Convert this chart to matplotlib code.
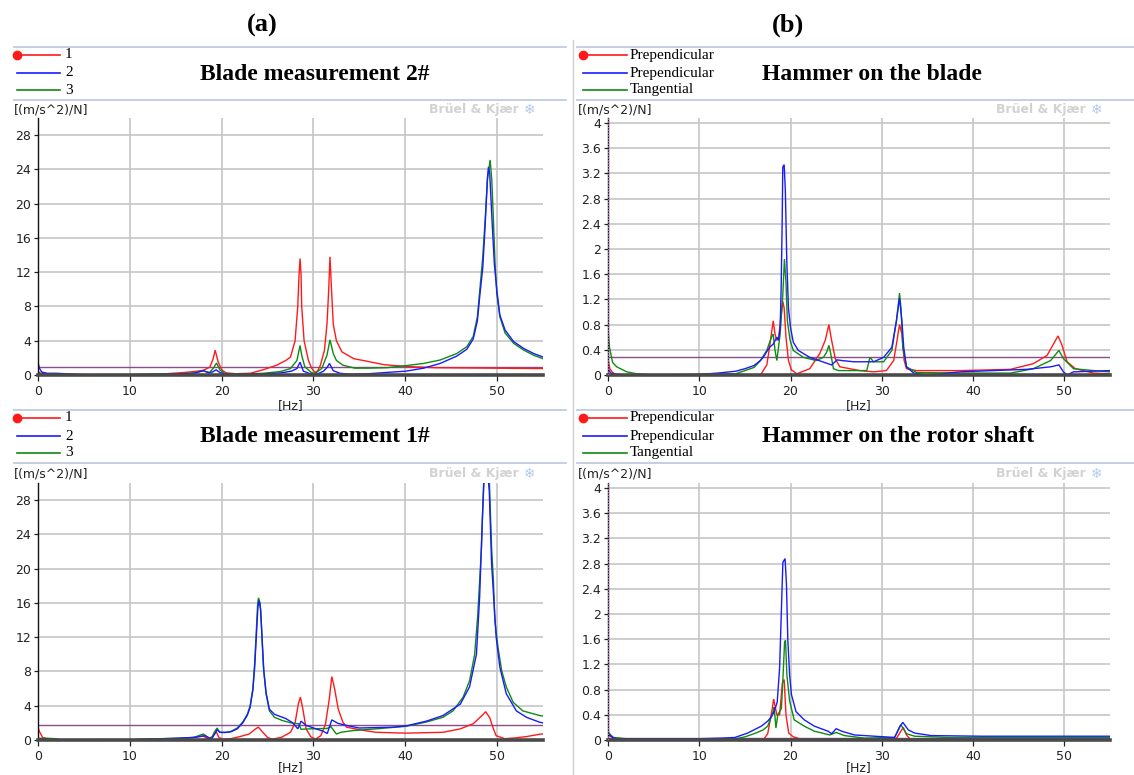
import matplotlib
matplotlib.use("Agg")
import matplotlib.pyplot as plt
from matplotlib.lines import Line2D
from matplotlib.ticker import FuncFormatter

# ---------------------------------------------------------------- data
freq_ticks = [0, 10, 20, 30, 40, 50]
blade_yticks = [0, 4, 8, 12, 16, 20, 24, 28]
hammer_yticks = [0, 0.4, 0.8, 1.2, 1.6, 2, 2.4, 2.8, 3.2, 3.6, 4]

blade_labels = ["1", "2", "3"]
hammer_labels = ["Prependicular", "Prependicular", "Tangential"]
panel_titles = ["Blade measurement 2#", "Hammer on the blade",
                "Blade measurement 1#", "Hammer on the rotor shaft"]
column_tags = ["(a)", "(b)"]
unit_label = "[(m/s^2)/N]"
freq_label = "[Hz]"
brand = "Brüel & Kjær"

# Blade measurement 2#
blade2_red_hz = [0, 0.3, 1, 2, 3, 5, 10, 14, 16, 17, 18, 18.7, 19.05, 19.3, 19.6, 20.0,
                 20.5, 21.5, 23.1, 24.5, 26.0, 27.0, 27.5, 28.0, 28.29, 28.43, 28.54,
                 28.65, 28.72, 28.98, 29.45, 29.8, 30.17, 30.47, 30.76, 31.2, 31.47,
                 31.65, 31.8, 31.98, 32.16, 32.5, 33.1, 34.4, 35.4, 37.7, 40.1, 43.3,
                 49.0, 55.0]
blade2_red = [0.4, 0.2, 0.15, 0.12, 0.08, 0.03, 0.05, 0.15, 0.3, 0.4, 0.55, 0.9, 1.8,
              2.9, 1.6, 0.6, 0.25, 0.15, 0.2, 0.6, 1.15, 1.7, 2.1, 4.0, 8.0, 11.7, 13.6,
              11.7, 8.0, 4.0, 1.7, 0.8, 0.3, 0.5, 1.15, 2.9, 5.9, 9.7, 13.8, 9.7, 5.9,
              4.0, 2.7, 1.9, 1.7, 1.2, 1.0, 0.85, 0.8, 0.75]
blade2_blue_hz = [0, 0.15, 0.4, 1, 2, 3, 4, 5.5, 10, 12, 14, 15.6, 17, 18.0, 18.6, 19.0,
                  19.4, 19.8, 20.3, 21.0, 23.0, 25.0, 26.5, 27.6, 28.2, 28.54, 28.9,
                  29.5, 30.0, 30.6, 31.1, 31.5, 31.74, 32.16, 32.9, 34.0, 36.0, 38.0,
                  40.1, 42.0, 43.8, 45.6, 46.7, 47.4, 47.85, 48.15, 48.44, 48.7, 48.95,
                  49.06, 49.2, 49.45, 49.7, 49.97, 50.3, 50.87, 51.8, 52.9, 54.0, 55.0]
blade2_blue = [1.5, 0.8, 0.35, 0.2, 0.2, 0.15, 0.08, 0.03, 0.02, 0.05, 0.08, 0.15, 0.2,
               0.5, 0.25, 0.35, 0.6, 0.3, 0.12, 0.08, 0.08, 0.15, 0.25, 0.45, 0.75, 1.5,
               0.45, 0.2, 0.1, 0.2, 0.45, 0.9, 1.35, 0.5, 0.2, 0.08, 0.15, 0.3, 0.45,
               0.8, 1.35, 2.2, 3.0, 4.2, 6.3, 9.6, 12.5, 17.5, 23.0, 24.3, 23.5, 18.0,
               13.0, 9.9, 7.0, 5.25, 3.9, 3.1, 2.5, 2.1]
blade2_green_hz = [0, 0.3, 1, 3, 10, 14, 16, 17, 18.0, 18.3, 18.7, 19.1, 19.45, 19.8,
                   20.3, 21.0, 22.0, 24.5, 26.4, 27.5, 28.2, 28.54, 28.72, 29.06, 29.8,
                   30.17, 30.9, 31.47, 31.8, 32.16, 32.5, 33.2, 34.5, 36.0, 38.0, 40.1,
                   42.0, 43.8, 45.6, 46.7, 47.4, 47.85, 48.15, 48.44, 48.7, 48.95, 49.24,
                   49.42, 49.6, 49.78, 49.97, 50.3, 50.87, 51.8, 52.9, 54.0, 55.0]
blade2_green = [0.3, 0.1, 0.05, 0.03, 0.03, 0.08, 0.15, 0.25, 0.5, 0.4, 0.3, 0.8, 1.4,
                0.6, 0.2, 0.1, 0.1, 0.2, 0.4, 0.75, 1.7, 3.45, 2.3, 0.95, 0.27, 0.2,
                0.75, 2.3, 4.1, 2.5, 1.7, 1.15, 0.8, 0.8, 0.85, 1.1, 1.35, 1.75, 2.5,
                3.3, 4.5, 6.8, 10.3, 13.8, 18.1, 22.8, 25.1, 22.8, 18.1, 13.0, 9.5, 6.8,
                4.9, 3.7, 2.9, 2.3, 1.9]
blade2_ref = 0.9

# Hammer on the blade
hblade_red_hz = [0, 0.2, 0.5, 1.0, 16.7, 17.4, 17.7, 18.1, 18.3, 18.5, 18.7, 18.9,
                 19.15, 19.3, 19.5, 19.77, 20.1, 20.7, 22.1, 23.2, 23.8, 24.2, 24.5,
                 24.9, 25.4, 27.6, 29.1, 30.5, 31.3, 31.6, 31.94, 32.2, 32.45, 32.7,
                 33.8, 38.6, 44.1, 46.6, 48.1, 48.8, 49.3, 49.7, 50.3, 51.2, 53.2, 55.0]
hblade_red = [0.25, 0.1, 0.04, 0.0, 0.0, 0.16, 0.44, 0.86, 0.65, 0.55, 0.6, 0.86, 1.17,
              1.06, 0.6, 0.23, 0.08, 0.02, 0.1, 0.34, 0.55, 0.8, 0.55, 0.26, 0.13, 0.07,
              0.05, 0.07, 0.23, 0.49, 0.8, 0.65, 0.23, 0.1, 0.07, 0.07, 0.09, 0.18,
              0.31, 0.49, 0.62, 0.49, 0.21, 0.1, 0.03, 0.02]
hblade_blue_hz = [0, 0.3, 1.0, 2.0, 9.0, 12.0, 14.0, 15.0, 16.0, 16.7, 17.0, 17.7, 18.1,
                  18.5, 18.68, 18.86, 18.97, 19.08, 19.15, 19.3, 19.43, 19.59, 19.77,
                  20.0, 20.3, 20.85, 22.1, 23.9, 24.5, 25.1, 25.6, 26.9, 29.1, 30.2,
                  31.1, 31.6, 31.94, 32.2, 32.4, 32.7, 33.5, 34.9, 38.6, 42.2, 45.9,
                  48.5, 49.4, 49.9, 50.3, 51.0, 55.0]
hblade_blue = [0.1, 0.03, 0.01, 0.0, 0.0, 0.03, 0.06, 0.1, 0.15, 0.23, 0.28, 0.44, 0.49,
               0.6, 0.55, 0.75, 1.38, 2.4, 3.3, 3.34, 2.93, 1.8, 1.06, 0.75, 0.52, 0.39,
               0.28, 0.19, 0.16, 0.24, 0.23, 0.21, 0.21, 0.28, 0.44, 0.86, 1.22, 0.86,
               0.44, 0.13, 0.03, 0.0, 0.05, 0.07, 0.09, 0.13, 0.16, 0.05, 0.0, 0.05, 0.07]
hblade_green_hz = [0, 0.15, 0.5, 0.95, 2.05, 3.1, 5, 14, 15, 16, 16.7, 17.4, 17.9, 18.1,
                   18.3, 18.5, 18.86, 19.15, 19.33, 19.5, 19.65, 19.95, 20.3, 21.4, 22.8,
                   23.6, 23.95, 24.2, 24.4, 24.7, 25.25, 28.35, 28.7, 29.1, 30.2, 31.1,
                   31.6, 31.94, 32.1, 32.3, 32.7, 33.8, 38.6, 44.1, 46.6, 48.5, 49.4,
                   49.9, 51.0, 53.2, 55.0]
hblade_green = [0.75, 0.45, 0.2, 0.13, 0.05, 0.02, 0.0, 0.02, 0.07, 0.12, 0.23, 0.39,
                0.6, 0.65, 0.39, 0.23, 0.65, 1.27, 1.84, 1.48, 0.86, 0.55, 0.39, 0.28,
                0.23, 0.28, 0.36, 0.47, 0.34, 0.1, 0.07, 0.07, 0.28, 0.21, 0.21, 0.39,
                0.86, 1.3, 1.06, 0.44, 0.13, 0.04, 0.03, 0.03, 0.1, 0.23, 0.39, 0.26, 0.1,
                0.07, 0.05]
hblade_ref = 0.29

# Blade measurement 1#
blade1_red_hz = [0, 0.15, 0.5, 1.0, 1.8, 2.5, 10.7, 13, 15, 17, 18.0, 18.5, 19.0, 19.4,
                 19.7, 20.2, 21.0, 22.0, 23.0, 23.7, 24.0, 24.4, 25.0, 25.5, 26.5, 27.5,
                 28.0, 28.35, 28.58, 28.85, 29.2, 29.7, 30.2, 30.8, 31.3, 31.7, 32.0,
                 32.3, 32.7, 33.2, 33.6, 35.0, 36.8, 40.1, 44.1, 46.0, 47.4, 48.2, 48.76,
                 49.2, 49.6, 49.9, 50.84, 52.0, 53.2, 54.8, 55.0]
blade1_red = [1.5, 1.0, 0.3, 0.15, 0.1, 0.0, 0.02, 0.05, 0.1, 0.3, 0.45, 0.15, 0.4, 1.0,
              0.3, 0.05, 0.15, 0.4, 0.7, 1.3, 1.5, 1.0, 0.3, 0.1, 0.3, 0.9, 2.0, 4.2,
              5.0, 3.6, 1.3, 0.4, 0.1, 0.5, 1.8, 4.6, 7.4, 6.0, 3.6, 2.1, 1.5, 1.2, 0.9,
              0.8, 0.9, 1.3, 1.9, 2.7, 3.3, 2.6, 1.3, 0.5, 0.15, 0.25, 0.4, 0.7, 0.7]
blade1_blue_hz = [0, 0.5, 1.0, 2.0, 11.0, 15.0, 17.0, 17.8, 18.2, 18.9, 19.3, 19.5, 19.8,
                  20.5, 21.0, 21.7, 22.3, 22.8, 23.1, 23.4, 23.6, 23.8, 23.95, 24.08,
                  24.25, 24.42, 24.6, 24.84, 25.2, 25.75, 27.0, 27.75, 28.3, 28.65, 29.2,
                  30.3, 31.1, 31.5, 32.0, 32.65, 33.6, 35.0, 38.7, 40.1, 42.3, 44.1,
                  46.0, 47.0, 47.75, 48.1, 48.4, 48.6, 48.85, 49.15, 49.4, 49.9, 50.3,
                  51.0, 52.1, 53.2, 54.65, 55.0]
blade1_blue = [0.15, 0.1, 0.05, 0.03, 0.05, 0.2, 0.3, 0.45, 0.5, 0.1, 0.8, 1.2, 0.9, 0.9,
               0.95, 1.3, 2.0, 2.9, 3.8, 5.8, 8.5, 12.5, 15.5, 16.3, 15.2, 11.5, 8.0, 5.5,
               3.6, 3.0, 2.5, 2.0, 1.3, 2.2, 1.7, 1.3, 1.0, 0.75, 2.35, 1.95, 1.7, 1.4,
               1.5, 1.65, 2.2, 2.85, 4.2, 6.2, 10.0, 16.7, 26.0, 31.0, 33.0, 29.0, 20.6,
               12.0, 8.5, 5.4, 3.4, 2.65, 2.07, 2.0]
blade1_green_hz = [0, 1.0, 2.0, 2.5, 10.5, 11.0, 13.0, 15.0, 16.0, 17.0, 17.6, 18.0, 18.5,
                   18.9, 19.2, 19.5, 19.8, 20.3, 21.0, 21.7, 22.3, 22.8, 23.1, 23.4, 23.6,
                   23.78, 23.92, 24.02, 24.2, 24.4, 24.55, 24.84, 25.2, 25.75, 26.65,
                   27.75, 28.4, 28.65, 29.6, 31.5, 31.9, 32.5, 33.0, 34.3, 36.8, 40.1,
                   42.3, 44.1, 45.2, 46.3, 47.0, 47.56, 47.9, 48.3, 48.55, 48.85, 49.15,
                   49.4, 49.6, 49.75, 50.1, 50.5, 51.0, 51.75, 52.8, 54.65, 55.0]
blade1_green = [0.2, 0.2, 0.15, 0.0, 0.0, 0.1, 0.15, 0.2, 0.25, 0.3, 0.55, 0.7, 0.3, 0.2,
                0.9, 1.4, 0.9, 0.85, 1.0, 1.4, 2.1, 3.0, 4.0, 6.0, 9.0, 12.8, 15.9, 16.6,
                15.9, 12.0, 8.5, 5.4, 3.4, 2.65, 2.26, 1.95, 1.9, 1.25, 1.3, 1.35, 1.56,
                0.7, 0.9, 1.1, 1.3, 1.6, 2.1, 2.65, 3.4, 5.0, 6.9, 10.0, 14.7, 22.5, 30.5,
                33.0, 30.5, 22.5, 18.6, 14.0, 10.8, 8.1, 6.2, 4.4, 3.4, 2.85, 2.8]
blade1_ref = 1.8

# Hammer on the rotor shaft
hshaft_red_hz = [0, 0.5, 1.0, 17.0, 17.5, 18.0, 18.15, 18.5, 18.8, 19.1, 19.3, 19.5,
                 19.8, 20.3, 21.0, 22.0, 31.5, 32.0, 32.35, 32.7, 33.2, 55.0]
hshaft_red = [0.08, 0.04, 0.0, 0.0, 0.1, 0.5, 0.65, 0.4, 0.4, 0.9, 0.96, 0.4, 0.11,
              0.05, 0.02, 0.0, 0.0, 0.12, 0.2, 0.08, 0.0, 0.0]
hshaft_blue_hz = [0, 0.5, 1.0, 10.0, 12.4, 13.9, 15.3, 16.8, 17.5, 17.9, 18.2, 18.54,
                  18.8, 18.98, 19.16, 19.4, 19.55, 19.7, 19.9, 20.1, 20.6, 21.5, 22.6,
                  24.1, 24.5, 25.0, 25.6, 27.0, 29.2, 31.4, 32.0, 32.3, 32.9, 33.6, 35.4,
                  40.9, 55.0]
hshaft_blue = [0.1, 0.04, 0.02, 0.02, 0.03, 0.04, 0.11, 0.22, 0.3, 0.37, 0.45, 0.6,
               1.14, 1.98, 2.82, 2.88, 2.48, 1.6, 1.03, 0.72, 0.45, 0.32, 0.22, 0.14,
               0.1, 0.18, 0.14, 0.08, 0.06, 0.04, 0.22, 0.28, 0.16, 0.11, 0.07, 0.06,
               0.06]
hshaft_green_hz = [0, 0.3, 0.6, 2.0, 14.0, 15.0, 16.0, 17.0, 17.5, 18.1, 18.2, 18.4,
                   18.6, 19.0, 19.15, 19.35, 19.45, 19.6, 19.9, 20.4, 21.5, 22.6, 24.3,
                   25.0, 25.9, 28.1, 31.4, 32.0, 32.1, 32.7, 33.6, 37.3, 55.0]
hshaft_green = [0.13, 0.08, 0.04, 0.02, 0.02, 0.05, 0.1, 0.16, 0.22, 0.45, 0.52, 0.19,
                0.4, 0.5, 0.93, 1.56, 1.58, 1.03, 0.62, 0.32, 0.22, 0.14, 0.08, 0.12,
                0.07, 0.03, 0.04, 0.22, 0.24, 0.1, 0.06, 0.04, 0.04]
hshaft_ref = 0.03

# ---------------------------------------------------------------- layout
W, H = 1134, 775
RED, BLUE, GREEN = "#ff1a1a", "#1a1aff", "#108a10"
REF_COLOR = "#8a4c8a"
GRID_COLOR = "#c6c6c6"
FRAME_COLOR = "#bfcde0"
SERIF = "Liberation Serif"
SANS = "DejaVu Sans"

fig = plt.figure(figsize=(W / 100, H / 100), dpi=100)
fig.patch.set_facecolor("white")


def fx(x):
    return x / W


def fy(y):
    return 1 - y / H


columns = [
    dict(frame=(14, 566), leg=(17, 60), lab=65, title=200, unit=14, axes=(38, 543)),
    dict(frame=(577, 1134), leg=(583, 627), lab=630, title=762, unit=578, axes=(608, 1110)),
]
rows = [
    dict(lines=(47, 100), legy=(55, 73, 90), title=75, unit=110, axes=(118, 375), hz=406),
    dict(lines=(410, 463), legy=(418, 436, 453), title=437, unit=474, axes=(483, 740), hz=768),
]

panels = [
    dict(col=0, row=0, title=panel_titles[0], labels=blade_labels, yticks=blade_yticks,
         ylim=30, ref=blade2_ref, dotted_axis=False,
         series=[(blade2_red_hz, blade2_red, RED),
                 (blade2_green_hz, blade2_green, GREEN),
                 (blade2_blue_hz, blade2_blue, BLUE)]),
    dict(col=1, row=0, title=panel_titles[1], labels=hammer_labels, yticks=hammer_yticks,
         ylim=4.08, ref=hblade_ref, dotted_axis=True,
         series=[(hblade_red_hz, hblade_red, RED),
                 (hblade_green_hz, hblade_green, GREEN),
                 (hblade_blue_hz, hblade_blue, BLUE)]),
    dict(col=0, row=1, title=panel_titles[2], labels=blade_labels, yticks=blade_yticks,
         ylim=30, ref=blade1_ref, dotted_axis=False,
         series=[(blade1_red_hz, blade1_red, RED),
                 (blade1_green_hz, blade1_green, GREEN),
                 (blade1_blue_hz, blade1_blue, BLUE)]),
    dict(col=1, row=1, title=panel_titles[3], labels=hammer_labels, yticks=hammer_yticks,
         ylim=4.08, ref=hshaft_ref, dotted_axis=True,
         series=[(hshaft_red_hz, hshaft_red, RED),
                 (hshaft_green_hz, hshaft_green, GREEN),
                 (hshaft_blue_hz, hshaft_blue, BLUE)]),
]

# column tags
for tag, xc in zip(column_tags, (262, 788)):
    fig.text(fx(xc), fy(25), tag, ha="center", va="center", fontsize=19,
             fontweight="bold", family=SERIF)

# thin separator between the two columns
fig.add_artist(Line2D([fx(573), fx(573)], [fy(40), fy(775)], color="#d0d0d0", lw=1.0))

for p in panels:
    c = columns[p["col"]]
    r = rows[p["row"]]

    # header frame
    for yl in r["lines"]:
        fig.add_artist(Line2D([fx(c["frame"][0]), fx(c["frame"][1])], [fy(yl), fy(yl)],
                              color=FRAME_COLOR, lw=1.3))

    # legend entries
    for (_, _, col), lab, yy in zip([p["series"][0], p["series"][2], p["series"][1]],
                                    p["labels"], r["legy"]):
        fig.add_artist(Line2D([fx(c["leg"][0]), fx(c["leg"][1])], [fy(yy), fy(yy)],
                              color=col, lw=1.2))
        fig.text(fx(c["lab"]), fy(yy), lab, ha="left", va="center", fontsize=11,
                 family=SERIF)
    fig.add_artist(Line2D([fx(c["leg"][0])], [fy(r["legy"][0])], marker="o",
                          markersize=6, color=RED, lw=0))

    # panel title
    fig.text(fx(c["title"]), fy(r["title"]), p["title"], ha="left", va="center",
             fontsize=17, fontweight="bold", family=SERIF)

    # unit label and brand mark
    fig.text(fx(c["unit"]), fy(r["unit"]), unit_label, ha="left", va="center",
             fontsize=9, family=SANS, color="#222222")
    fig.text(fx(c["axes"][1] - 24), fy(r["unit"]), brand, ha="right", va="center",
             fontsize=9, family=SANS, fontweight="bold", color="#d2d2d2")
    fig.text(fx(c["axes"][1] - 13), fy(r["unit"]), "\u2744", ha="center", va="center",
             fontsize=10, family=SANS, color="#b4cbea")

    # axes
    x0, x1 = c["axes"]
    ytop, ybot = r["axes"]
    ax = fig.add_axes([fx(x0), fy(ybot), (x1 - x0) / W, (ybot - ytop) / H])
    ax.set_xlim(0, 55)
    ax.set_ylim(0, p["ylim"])
    ax.set_xticks(freq_ticks)
    ax.set_yticks(p["yticks"])
    ax.yaxis.set_major_formatter(FuncFormatter(lambda v, _: "%g" % round(v, 2)))
    ax.grid(True, color=GRID_COLOR, lw=1.2)
    ax.set_axisbelow(True)
    for s in ("top", "right"):
        ax.spines[s].set_visible(False)
    ax.spines["left"].set_color("#111111")
    ax.spines["left"].set_linewidth(1.0)
    ax.spines["bottom"].set_color("#4a4a4a")
    ax.spines["bottom"].set_linewidth(2.6)
    ax.tick_params(axis="both", labelsize=9, colors="#222222", length=3, width=0.9,
                   pad=2)
    ax.tick_params(axis="x", length=4, pad=3)
    for t in ax.get_xticklabels() + ax.get_yticklabels():
        t.set_family(SANS)

    ax.axhline(p["ref"], color=REF_COLOR, lw=1.0, zorder=1.5)
    if p["dotted_axis"]:
        ax.axvline(0, color="#c070c0", lw=1.0, ls=(0, (1, 1)), zorder=3)

    for hz, vals, col in p["series"]:
        ax.plot(hz, vals, color=col, lw=1.0, solid_joinstyle="miter", zorder=2)

    fig.text(fx((x0 + x1) / 2), fy(r["hz"]), freq_label, ha="center", va="center",
             fontsize=9, family=SANS, color="#222222")

fig.savefig("out.png", dpi=100, facecolor="white")
